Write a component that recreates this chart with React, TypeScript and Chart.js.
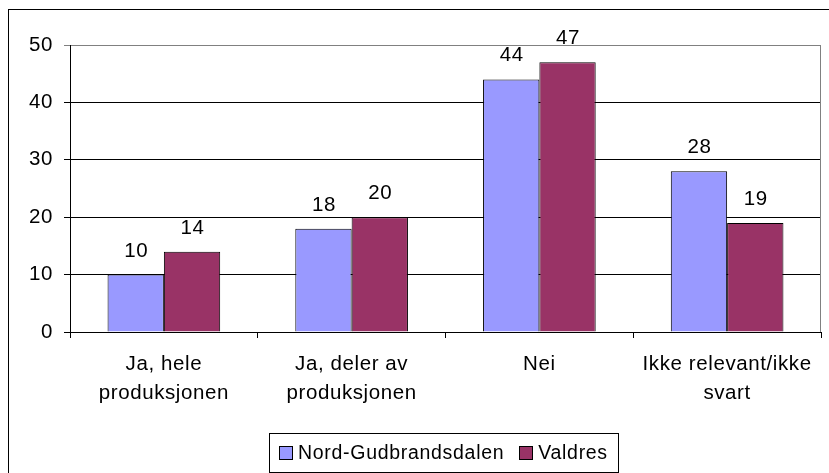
import React, { useEffect, useRef } from "react";
import { Chart, registerables } from "chart.js";

Chart.register(...registerables);

const categories: (string | string[])[] = [
  ["Ja, hele", "produksjonen"],
  ["Ja, deler av", "produksjonen"],
  "Nei",
  ["Ikke relevant/ikke", "svart"],
];
const seriesNames = ["Nord-Gudbrandsdalen", "Valdres"];
const nordGudbrandsdalen = [10, 18, 44, 28];
const valdres = [14, 20, 47, 19];
const yTicks = [0, 10, 20, 30, 40, 50];

const FONT = "'Liberation Sans', Arial, sans-serif";
const COLORS = ["#9999FF", "#993366"];
const SPACING = "0.6px";
const FS = 20.5;

const framePlugin = {
  id: "frame",
  beforeDraw(chart: any) {
    const { ctx } = chart;
    ctx.save();
    ctx.fillStyle = "#ffffff";
    ctx.fillRect(0, 0, chart.width, chart.height);
    ctx.strokeStyle = "#000000";
    ctx.lineWidth = 1;
    ctx.strokeRect(8.5, 9.5, 900, 600);
    ctx.restore();
    (ctx as any).letterSpacing = SPACING;
  },
  afterDraw(chart: any) {
    const { ctx, chartArea } = chart;
    ctx.save();
    ctx.strokeStyle = "#808080";
    ctx.lineWidth = 1;
    ctx.beginPath();
    const x = Math.round(chartArea.right) - 0.5;
    ctx.moveTo(x, Math.round(chartArea.top) + 0.5);
    ctx.lineTo(x, Math.round(chartArea.bottom));
    ctx.stroke();
    ctx.restore();
  },
};

const labelsPlugin = {
  id: "valueLabels",
  afterDatasetsDraw(chart: any) {
    const { ctx } = chart;
    ctx.save();
    (ctx as any).letterSpacing = SPACING;
    ctx.font = `${FS}px ${FONT}`;
    ctx.fillStyle = "#000000";
    ctx.textAlign = "center";
    ctx.textBaseline = "alphabetic";
    chart.data.datasets.forEach((ds: any, i: number) => {
      const meta = chart.getDatasetMeta(i);
      meta.data.forEach((bar: any, j: number) => {
        ctx.fillText(String(ds.data[j]), bar.x + 0.5, bar.y - 18);
      });
    });
    ctx.restore();
  },
};

const legendPlugin = {
  id: "boxLegend",
  afterDraw(chart: any) {
    const { ctx } = chart;
    ctx.save();
    (ctx as any).letterSpacing = "0.7px";
    ctx.font = `19.5px ${FONT}`;
    const left = 269;
    const top = 433;
    const h = 39;
    const marker = 13;
    const items = chart.data.datasets.map((ds: any) => ({
      label: ds.label,
      color: ds.backgroundColor,
      w: ctx.measureText(ds.label).width,
    }));
    let total = 10;
    items.forEach((it: any, i: number) => {
      total += marker + 6 + it.w + (i < items.length - 1 ? 15 : 10);
    });
    ctx.strokeStyle = "#000000";
    ctx.lineWidth = 1;
    ctx.strokeRect(left + 0.5, top + 0.5, Math.round(total), h);
    const cy = top + h / 2;
    let x = left + 10;
    items.forEach((it: any) => {
      const mx = Math.round(x) + 0.5;
      const my = Math.round(cy - marker / 2) + 0.5;
      ctx.fillStyle = it.color;
      ctx.fillRect(mx, my, marker, marker);
      ctx.strokeStyle = "#000000";
      ctx.strokeRect(mx, my, marker, marker);
      x += marker + 6;
      ctx.fillStyle = "#000000";
      ctx.textBaseline = "middle";
      ctx.textAlign = "left";
      ctx.fillText(it.label, x, cy + 1);
      x += it.w + 15;
    });
    ctx.restore();
  },
};

export default function App() {
  const ref = useRef<HTMLCanvasElement | null>(null);
  useEffect(() => {
    if (!ref.current) return;
    const chart = new Chart(ref.current, {
      type: "bar",
      data: {
        labels: categories,
        datasets: [
          {
            label: seriesNames[0],
            data: nordGudbrandsdalen,
            backgroundColor: COLORS[0],
            borderColor: "#000000",
            borderWidth: 1,
          },
          {
            label: seriesNames[1],
            data: valdres,
            backgroundColor: COLORS[1],
            borderColor: "#000000",
            borderWidth: 1,
          },
        ],
      },
      options: {
        responsive: false,
        animation: false,
        devicePixelRatio: 1,
        layout: { padding: { left: 0, top: 45, right: 8, bottom: 0 } },
        datasets: { bar: { categoryPercentage: 0.6, barPercentage: 1 } },
        plugins: {
          legend: { display: false },
          tooltip: { enabled: false },
        },
        scales: {
          x: {
            grid: {
              display: true,
              drawOnChartArea: false,
              drawTicks: true,
              tickLength: 6,
              color: "#000000",
              offset: true,
            },
            border: { display: true, color: "#000000" },
            ticks: {
              color: "#000000",
              padding: 12,
              font: { family: FONT, size: FS, lineHeight: 1.415 },
              maxRotation: 0,
              autoSkip: false,
            },
            afterFit(scale: any) {
              scale.height = 141;
            },
          },
          y: {
            min: 0,
            max: 50,
            afterBuildTicks(scale: any) {
              scale.ticks = yTicks.map((v) => ({ value: v }));
            },
            grid: {
              color: (c: any) => (c.tick && c.tick.value === 50 ? "#808080" : "#000000"),
              tickLength: 6,
              drawTicks: true,
            },
            border: { display: true, color: "#000000" },
            ticks: {
              color: "#000000",
              padding: 11,
              font: { family: FONT, size: FS },
            },
            afterFit(scale: any) {
              scale.width = 70;
            },
          },
        },
      },
      plugins: [framePlugin, labelsPlugin, legendPlugin],
    });
    return () => chart.destroy();
  }, []);
  return (
    <div style={{ position: "absolute", left: 0, top: 0, width: 829, height: 473 }}>
      <canvas ref={ref} width={829} height={473} />
    </div>
  );
}
